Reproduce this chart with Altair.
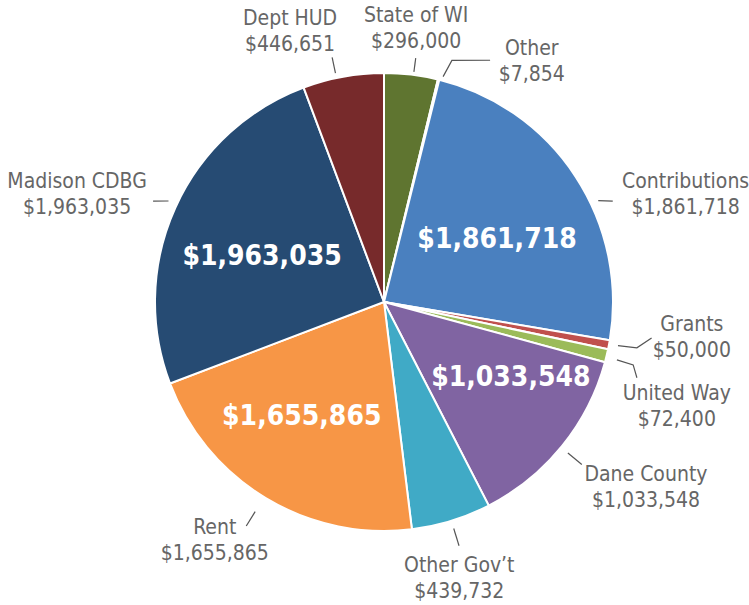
import math
import altair as alt
import pandas as pd

# ---- data -------------------------------------------------------------
categories = ["State of WI", "Other", "Contributions", "Grants", "United Way",
              "Dane County", "Other Gov’t", "Rent", "Madison CDBG", "Dept HUD"]
values = [296000, 7854, 1861718, 50000, 72400,
          1033548, 439732, 1655865, 1963035, 446651]
colors = ["#5F7530", "#3E2D5E", "#4A80BF", "#C0504D", "#9BBB59",
          "#8064A2", "#40AAC6", "#F79646", "#264B73", "#772A2B"]
inner_labelled = ["Contributions", "Dane County", "Rent", "Madison CDBG"]

# ---- layout -----------------------------------------------------------
CX, CY, R = 384, 302, 229
# outer label: (angle nudge from slice mid, radius)
label_layout = {
    "State of WI": (-0.1, 275), "Other": (17.8, 282), "Contributions": (13.7, 320),
    "Grants": (-4.0, 310), "United Way": (6.1, 311), "Dane County": (-3.7, 321),
    "Other Gov’t": (1.9, 287), "Rent": (4.2, 293), "Madison CDBG": (-5.1, 325),
    "Dept HUD": (-8.9, 286),
}
# inner label: (angle nudge, radius)
inner_layout = {
    "Contributions": (4.4, 129), "Dane County": (-8.0, 148),
    "Rent": (4.6, 141), "Madison CDBG": (-4.0, 130),
}
# leader lines: list of (angle nudge, radius) points
leader_layout = {
    "State of WI": [(0.6, 232), (0.6, 246)],
    "Other": [(0.9, 233), (1.9, 251), (9.9, 264)],
    "Contributions": [(7.9, 237), (9.4, 250)],
    "Grants": [(-0.2, 238), (-0.5, 257), (-3.1, 270)],
    "United Way": [(0.4, 240), (0.6, 257), (3.1, 264)],
    "Dane County": [(0.4, 238), (0.4, 256)],
    "Other Gov’t": [(0.0, 237), (0.0, 255)],
    "Rent": [(0.5, 246), (0.5, 263)],
    "Madison CDBG": [(0.8, 238), (-0.7, 252)],
    "Dept HUD": [(-1.7, 234), (-1.7, 250)],
}
LINE_H = 26

total = sum(values)
mids = []
cum = 0
for v in values:
    mids.append((cum + v / 2) / total * 360)
    cum += v
mid_of = dict(zip(categories, mids))

df = pd.DataFrame({"cat": categories, "value": values, "idx": list(range(len(categories)))})

lab = pd.DataFrame({
    "cat": categories,
    "label": [f"{c}\n${v:,}" for c, v in zip(categories, values)],
    "ang": [mid_of[c] + label_layout[c][0] for c in categories],
    "r": [label_layout[c][1] for c in categories],
})

inn = pd.DataFrame({
    "cat": inner_labelled,
    "label": [f"${values[categories.index(c)]:,}" for c in inner_labelled],
    "ang": [mid_of[c] + inner_layout[c][0] for c in inner_labelled],
    "r": [inner_layout[c][1] for c in inner_labelled],
})

rows = []
for c in categories:
    for k, (da, rr) in enumerate(leader_layout[c]):
        a = math.radians(mid_of[c] + da)
        rows.append({"cat": c, "k": k,
                     "px": CX + rr * math.sin(a), "py": CY - rr * math.cos(a)})
lead = pd.DataFrame(rows)

# ---- chart ------------------------------------------------------------
pie = alt.Chart(df).mark_arc(outerRadius=R, stroke="white", strokeWidth=2).encode(
    theta=alt.Theta("value:Q", stack=True),
    color=alt.Color("cat:N", scale=alt.Scale(domain=categories, range=colors), legend=None),
    order=alt.Order("idx:Q"),
    x=alt.value(CX), y=alt.value(CY),
)

deg_scale = alt.Scale(domain=[0, 360], range=[0, 2 * math.pi])

outer = alt.Chart(lab).mark_text(
    font="DejaVu Sans Condensed", fontSize=21, color="#666666",
    align="center", baseline="middle", lineBreak="\n", lineHeight=LINE_H,
    dy=-LINE_H / 2,
).encode(
    theta=alt.Theta("ang:Q", scale=deg_scale, stack=False),
    radius=alt.Radius("r:Q", scale=None),
    text="label:N",
    x=alt.value(CX), y=alt.value(CY),
)

inner = alt.Chart(inn).mark_text(
    font="DejaVu Sans Condensed", fontSize=28, fontWeight="bold", color="white",
    align="center", baseline="middle",
).encode(
    theta=alt.Theta("ang:Q", scale=deg_scale, stack=False),
    radius=alt.Radius("r:Q", scale=None),
    text="label:N",
    x=alt.value(CX), y=alt.value(CY),
)

leaders = alt.Chart(lead).mark_line(color="#555555", strokeWidth=1.2).encode(
    x=alt.X("px:Q", scale=None, axis=None),
    y=alt.Y("py:Q", scale=None, axis=None),
    detail="cat:N",
    order="k:Q",
)

chart = alt.layer(pie, leaders, outer, inner).resolve_scale(
    theta="independent", radius="independent"
).properties(
    width=749, height=605, autosize="none", padding=0, background="white"
).configure_view(strokeWidth=0)

chart.save("out.html", embed_options={"renderer": "svg", "actions": False})
